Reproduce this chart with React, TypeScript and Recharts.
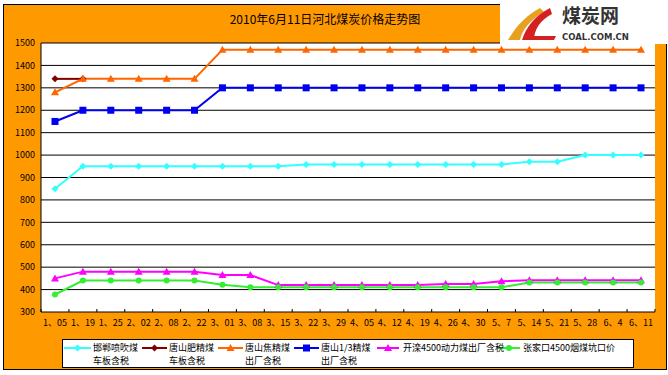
import { LineChart, Line, XAxis, YAxis, CartesianGrid } from 'recharts';

// Hebei coal price trend, 2010-01-05 .. 2010-06-11 (yuan/ton).

const CATEGORIES = [
  '1、05', '1、19', '1、25', '2、02', '2、08', '2、22', '3、01', '3、08', '3、15', '3、22', '3、29',
  '4、05', '4、12', '4、19', '4、26', '4、30', '5、7', '5、14', '5、21', '5、28', '6、4', '6、11',
];

const Y_TICKS = [300, 400, 500, 600, 700, 800, 900, 1000, 1100, 1200, 1300, 1400, 1500];

const HANDAN_PENCHUI = [850, 950, 950, 950, 950, 950, 950, 950, 950, 958, 958, 958, 958, 958, 958, 958, 958, 970, 970, 1000, 1000, 1000];
const TANGSHAN_FEI = [1340, 1340, null, null, null, null, null, null, null, null, null, null, null, null, null, null, null, null, null, null, null, null];
const TANGSHAN_JIAO = [1280, 1340, 1340, 1340, 1340, 1340, 1470, 1470, 1470, 1470, 1470, 1470, 1470, 1470, 1470, 1470, 1470, 1470, 1470, 1470, 1470, 1470];
const TANGSHAN_13 = [1150, 1200, 1200, 1200, 1200, 1200, 1300, 1300, 1300, 1300, 1300, 1300, 1300, 1300, 1300, 1300, 1300, 1300, 1300, 1300, 1300, 1300];
const KAILUAN_4500 = [450, 480, 480, 480, 480, 480, 465, 465, 420, 420, 420, 420, 420, 420, 425, 425, 437, 442, 442, 442, 442, 442];
const ZHANGJIAKOU_4500 = [378, 440, 440, 440, 440, 440, 422, 410, 410, 410, 410, 410, 410, 410, 410, 410, 410, 432, 432, 432, 432, 432];

const SERIES = [
  { key: 'handan', line1: '邯郸喷吹煤', line2: '车板含税', color: '#33FFFF', shape: 'diamond', values: HANDAN_PENCHUI },
  { key: 'fei', line1: '唐山肥精煤', line2: '车板含税', color: '#800000', shape: 'diamond', values: TANGSHAN_FEI },
  { key: 'jiao', line1: '唐山焦精煤', line2: '出厂含税', color: '#FF6600', shape: 'triangle', values: TANGSHAN_JIAO },
  { key: 'ts13', line1: '唐山1/3精煤', line2: '出厂含税', color: '#0000EE', shape: 'square', values: TANGSHAN_13 },
  { key: 'kailuan', line1: '开滦4500动力煤出厂含税', line2: '', color: '#FF00FF', shape: 'triangle', values: KAILUAN_4500 },
  { key: 'zjk', line1: '张家口4500烟煤坑口价', line2: '', color: '#33EE33', shape: 'circle', values: ZHANGJIAKOU_4500 },
];

const data = CATEGORIES.map((label, i) => {
  const row: Record<string, string | number | null> = { label };
  SERIES.forEach((s) => (row[s.key] = s.values[i]));
  return row;
});

const FONT = '"Noto Sans CJK SC", "DejaVu Sans", sans-serif';
const W = 668;
const H = 375;
const MARGIN = { top: 43, right: 13, bottom: 43, left: 3 };
const Y_W = 38;
const X_H = 20;
const X_PAD = 14;
const PLOT_W = W - MARGIN.left - MARGIN.right - Y_W;
const STEP = (PLOT_W - X_PAD * 2) / (CATEGORIES.length - 1);

// legend slots: [symbol start, symbol end, text start]
const LEGEND_POS = [
  [1, 28, 30],
  [79, 104, 106],
  [155, 180, 182],
  [231, 256, 258],
  [314, 336, 340],
  [435, 457, 460],
];

function Marker({ cx, cy, shape, color }: any) {
  if (cx == null || cy == null) return null;
  if (shape === 'diamond') {
    const s = 3.5;
    return <polygon points={`${cx},${cy - s} ${cx + s},${cy} ${cx},${cy + s} ${cx - s},${cy}`} fill={color} />;
  }
  if (shape === 'triangle') {
    const s = 4;
    return <polygon points={`${cx},${cy - s} ${cx + s},${cy + s * 0.75} ${cx - s},${cy + s * 0.75}`} fill={color} />;
  }
  if (shape === 'square') {
    return <rect x={cx - 3.5} y={cy - 3.5} width={7} height={7} fill={color} />;
  }
  return <circle cx={cx} cy={cy} r={3} fill={color} />;
}

function XTick({ x, y, payload, index }: any) {
  const bottom = y - 8;
  const last = index === CATEGORIES.length - 1;
  return (
    <g>
      <line x1={x - STEP / 2} x2={x - STEP / 2} y1={bottom - 3} y2={bottom} stroke="#000" />
      {last && <line x1={x + STEP / 2} x2={x + STEP / 2} y1={bottom - 3} y2={bottom} stroke="#000" />}
      <text x={x} y={y} dy="0.71em" textAnchor="middle" fontSize={9} fill="#000" fontFamily={FONT}>
        {payload.value}
      </text>
    </g>
  );
}

function Logo() {
  return (
    <div style={{ position: 'absolute', left: 500, top: 0, width: 168, height: 44, background: '#fff' }}>
      <svg width={168} height={44}>
        <path d="M8 40 C 14 30, 22 18, 40 8 L 44 12 C 30 20, 22 30, 20 40 Z" fill="#E8A020" />
        <path d="M22 40 C 26 28, 34 16, 50 8 L 52 14 C 40 20, 34 30, 34 40 Z" fill="#D42020" />
        <path d="M30 36 L 56 36 L 54 40 L 28 40 Z" fill="#D42020" />
        <text x={62} y={23} fontSize={19} fontWeight={700} fill="#333" fontFamily={FONT}>煤炭网</text>
        <text x={62} y={40} fontSize={8.5} fontWeight={700} fill="#333" fontFamily='"DejaVu Sans", sans-serif'>COAL.COM.CN</text>
      </svg>
    </div>
  );
}

function LegendBox() {
  return (
    <div
      style={{
        position: 'absolute', left: 62, top: 339, width: 570, height: 27,
        border: '1px solid #000', background: '#fff', fontFamily: FONT, fontSize: 9, color: '#000',
      }}
    >
      <svg width={570} height={27} style={{ position: 'absolute', left: 0, top: 0 }}>
        {SERIES.map((s, i) => {
          const [a, b] = LEGEND_POS[i];
          const cy = 8;
          return (
            <g key={s.key}>
              <line x1={a} x2={b} y1={cy} y2={cy} stroke={s.color} strokeWidth={2} />
              <Marker cx={(a + b) / 2} cy={cy} shape={s.shape} color={s.color} />
            </g>
          );
        })}
      </svg>
      {SERIES.map((s, i) => (
        <div key={s.key} style={{ position: 'absolute', left: LEGEND_POS[i][2], top: 1, lineHeight: '13px', whiteSpace: 'nowrap' }}>
          <div>{s.line1}</div>
          {s.line2 && <div>{s.line2}</div>}
        </div>
      ))}
    </div>
  );
}

export default function App() {
  return (
    <div style={{ position: 'absolute', left: 0, top: 0, width: W, height: H, background: '#fff', overflow: 'hidden' }}>
      <div style={{ position: 'absolute', left: 3, top: 4, width: 662, height: 364, border: '1px solid #000', background: '#FF9900' }} />
      <div
        style={{
          position: 'absolute', left: 0, top: 10, width: 650, textAlign: 'center',
          fontFamily: FONT, fontSize: 12, color: '#000',
        }}
      >
        2010年6月11日河北煤炭价格走势图
      </div>
      <div style={{ position: 'absolute', left: 0, top: 0 }}>
        <LineChart width={W} height={H} data={data} margin={MARGIN}>
          <CartesianGrid horizontal vertical={false} stroke="#000" fill="#fff" fillOpacity={1} />
          <XAxis
            dataKey="label"
            interval={0}
            height={X_H}
            padding={{ left: X_PAD, right: X_PAD }}
            axisLine={false}
            tickLine={false}
            tickSize={6}
            tickMargin={2}
            tick={<XTick />}
          />
          <YAxis
            domain={[300, 1500]}
            ticks={Y_TICKS}
            width={Y_W}
            interval={0}
            axisLine={{ stroke: '#000' }}
            tickLine={false}
            tickSize={4}
            tickMargin={2}
            tick={{ fontSize: 9, fill: '#000', fontFamily: FONT }}
          />
          {SERIES.map((s) => (
            <Line
              key={s.key}
              dataKey={s.key}
              stroke={s.color}
              strokeWidth={2}
              connectNulls={false}
              isAnimationActive={false}
              dot={(p: any) => <Marker key={`dot-${s.key}-${p.index}`} cx={p.cx} cy={p.cy} shape={s.shape} color={s.color} />}
              activeDot={false}
            />
          ))}
        </LineChart>
      </div>
      <Logo />
      <LegendBox />
    </div>
  );
}
